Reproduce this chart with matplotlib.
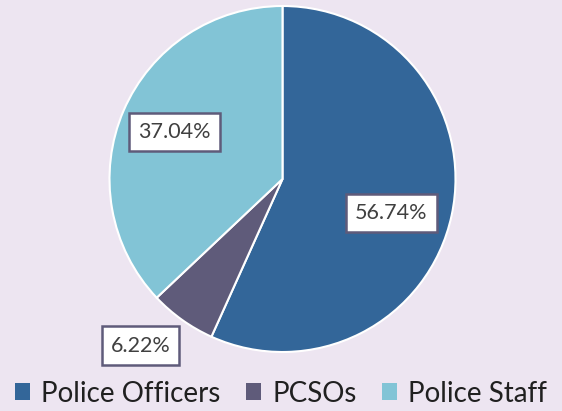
import numpy as np
import matplotlib.pyplot as plt
from matplotlib.patches import Patch

labels = ['Police Officers', 'PCSOs', 'Police Staff']
shares = [56.74, 6.22, 37.04]
colors = ['#336699', '#5f5b7a', '#82c4d6']
label_dist = [0.66, 1.265, 0.68]   # how far each % box sits from the centre
label_turn = [-5.3, -5.0, 0.0]     # small angle nudge, degrees

bg = '#ede5f1'
plt.rcParams['font.family'] = ['Lato', 'DejaVu Sans']

fig = plt.figure(figsize=(5.62, 4.11), dpi=100, facecolor=bg)
ax = fig.add_axes([0, 0, 1, 1])
ax.set_facecolor(bg)

cx, cy, R = 282.5, 232, 173
wedges, _ = ax.pie(shares, colors=colors, startangle=90, counterclock=False,
                   center=(cx, cy), radius=R, frame=True,
                   wedgeprops=dict(edgecolor='white', linewidth=1.5))
ax.set_xlim(0, 562)
ax.set_ylim(0, 411)
ax.set_aspect('equal')
ax.axis('off')

# % labels near the middle angle of each slice
for w, v, d, t in zip(wedges, shares, label_dist, label_turn):
    ang = np.deg2rad((w.theta1 + w.theta2) / 2 + t)
    x = cx + d * R * np.cos(ang)
    y = cy + d * R * np.sin(ang)
    ax.text(x, y, '%.2f%%' % v, ha='center', va='center', fontsize=15.5, color='#404040',
            bbox=dict(boxstyle='square,pad=0.42', facecolor='white', edgecolor='#5f5b7a', linewidth=1.8))

handles = [Patch(facecolor=c, edgecolor='none') for c in colors]
fig.legend(handles, labels, loc='lower center', ncol=3, frameon=False,
           bbox_to_anchor=(0.5, -0.05), fontsize=20, handlelength=0.55, handleheight=0.55,
           handletextpad=0.4, columnspacing=0.9, labelcolor='#202020')

fig.savefig('out.png', dpi=100, facecolor=bg)
